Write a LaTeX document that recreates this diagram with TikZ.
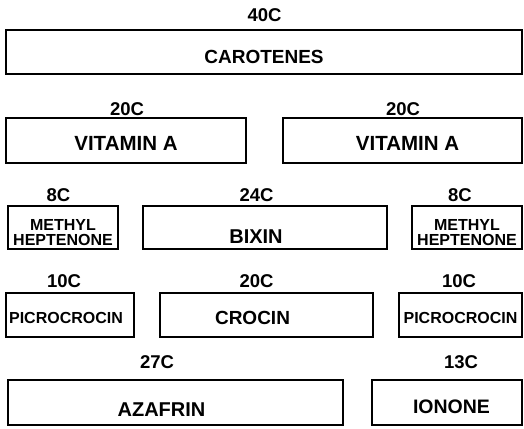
\documentclass[tikz,border=0pt]{standalone}
\usepackage{fontspec}
\setmainfont{Liberation Sans}
\usetikzlibrary{positioning}

\begin{document}
\begin{tikzpicture}[
    x=1pt, y=-1pt,
    box/.style={draw, line width=1.8pt, inner sep=0pt,
                font=\bfseries\fontsize{20}{22}\selectfont,
                text height=20pt, text depth=0pt},
    smallbox/.style={box, font=\bfseries\fontsize{16}{18}\selectfont},
    twoline/.style={draw, line width=1.8pt, inner sep=0pt, align=center,
                    font=\bfseries\fontsize{16}{15}\selectfont},
    cnum/.style={anchor=base, inner sep=0pt,
                 font=\bfseries\fontsize{18.5}{20}\selectfont},
  ]

  % Bounding box
  \useasboundingbox (0,0) rectangle (524,428);

  % Row 1
  \node[box, font=\bfseries\fontsize{19}{21}\selectfont, text height=22.5pt,
        minimum width=516pt, minimum height=44pt] (carotenes) at (264,52) {CAROTENES};
  \node[cnum] (c40) at (264.5,21.7) {40C};

  % Row 2
  \node[box, font=\bfseries\fontsize{20.5}{22}\selectfont, text height=19.7pt,
        minimum width=240pt, minimum height=45pt] (vitaL) at (126,140.5) {VITAMIN A};
  \node[box, font=\bfseries\fontsize{20.5}{22}\selectfont, text height=19.7pt,
        minimum width=239pt, minimum height=45pt] (vitaR) at (402.5,140.5) {VITAMIN A\kern-10pt};
  \node[cnum] (c20a) at (127,115) {20C};
  \node[cnum] (c20b) at (403,115) {20C};

  % Row 3
  \node[twoline, minimum width=110pt, minimum height=43pt] (methylL) at (63,227.5)
        {\rule{0pt}{22pt}METHYL\\HEPTENONE};
  \node[box, text height=32.3pt, minimum width=244pt, minimum height=43pt] (bixin) at (265,227.5) {\kern-18pt BIXIN};
  \node[twoline, minimum width=110pt, minimum height=43pt] (methylR) at (467,227.5)
        {\rule{0pt}{22pt}METHYL\\HEPTENONE};
  \node[cnum] (c8a) at (58.5,201.5) {8C};
  \node[cnum] (c24) at (256.5,201.5) {24C};
  \node[cnum] (c8b) at (460,201.5) {8C};

  % Row 4
  \node[smallbox, text height=16.5pt, minimum width=128pt, minimum height=44pt] (picroL) at (70,315) {\kern-8pt PICROCROCIN};
  \node[box, font=\bfseries\fontsize{19}{21}\selectfont, text height=18.3pt,
        minimum width=213pt, minimum height=44pt] (crocin) at (266.5,315) {\kern-28pt CROCIN};
  \node[smallbox, text height=16.5pt, minimum width=123pt, minimum height=44pt] (picroR) at (460.5,315) {PICROCROCIN};
  \node[cnum] (c10a) at (64,287) {10C};
  \node[cnum] (c20c) at (256.5,287) {20C};
  \node[cnum] (c10b) at (459,287) {10C};

  % Row 5
  \node[box, text height=27.3pt, minimum width=335pt, minimum height=45pt] (azafrin) at (175.5,402.5) {\kern-28pt AZAFRIN};
  \node[box, font=\bfseries\fontsize{19.5}{21}\selectfont, text height=22.3pt,
        minimum width=150pt, minimum height=45pt] (ionone) at (447,402.5) {IONONE\kern-9pt};
  \node[cnum] (c27) at (157,368) {27C};
  \node[cnum] (c13) at (461,368) {13C};

\end{tikzpicture}
\end{document}
